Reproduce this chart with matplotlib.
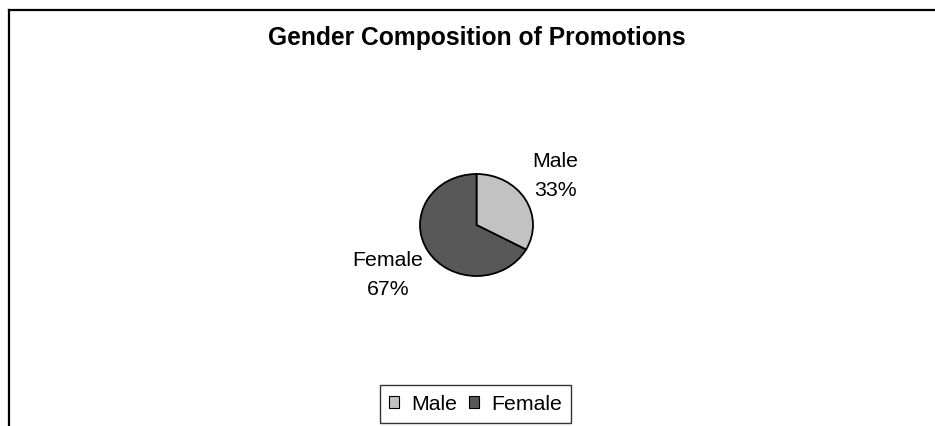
import matplotlib.pyplot as plt
from matplotlib.patches import Patch
from matplotlib.lines import Line2D

plt.rcParams['font.family'] = ['Liberation Sans', 'DejaVu Sans']

# data
labels = ['Male', 'Female']
shares = [33, 67]
colors = ['#c2c2c2', '#585858']
title = 'Gender Composition of Promotions'

W, H = 935, 427
fig = plt.figure(figsize=(W / 100, H / 100), dpi=100)

def px(x, y):
    # pixel position (from top-left) -> figure fraction
    return x / W, 1 - y / H

# outer chart frame (only top and left edge visible in the crop)
fig.add_artist(Line2D([9 / W, 9 / W], [0, 1 - 11 / H], color='black', lw=1.6))
fig.add_artist(Line2D([9 / W, 1], [1 - 11 / H, 1 - 11 / H], color='black', lw=1.6))

x0, y0 = px(477, 38)
fig.text(x0, y0, title, ha='center', va='center', fontsize=17.7, fontweight='bold')

# pie box: x 420..533, y 175..277
left, top = px(420, 175)
right, bottom = px(533, 277)
ax = fig.add_axes([left, bottom, right - left, top - bottom])
wedges, _ = ax.pie(shares, colors=colors, startangle=90, counterclock=False,
                   wedgeprops=dict(edgecolor='black', linewidth=1.3, clip_on=False))
ax.set_aspect('auto')
ax.set_xlim(-1, 1)
ax.set_ylim(-1, 1)
ax.axis('off')

# data labels
total = sum(shares)
label_pos = {'Male': (555, 176), 'Female': (388, 275)}
for name, val in zip(labels, shares):
    tx, ty = px(*label_pos[name])
    fig.text(tx, ty, f'{name}\n{round(100 * val / total)}%', ha='center', va='center',
             fontsize=15.3, linespacing=1.62)

handles = [Patch(facecolor=c, edgecolor='black', linewidth=0.8) for c in colors]
lx, ly = px(475.5, 405)
leg = fig.legend(handles, labels, loc='center', bbox_to_anchor=(lx, ly), ncol=2,
                 fontsize=15.3, frameon=True, fancybox=False, handlelength=0.48,
                 handleheight=0.48, handletextpad=0.58, columnspacing=0.53,
                 borderpad=0.43, borderaxespad=0)
leg.get_frame().set_edgecolor('black')
leg.get_frame().set_linewidth(1.0)

fig.savefig('out.png', dpi=100)
